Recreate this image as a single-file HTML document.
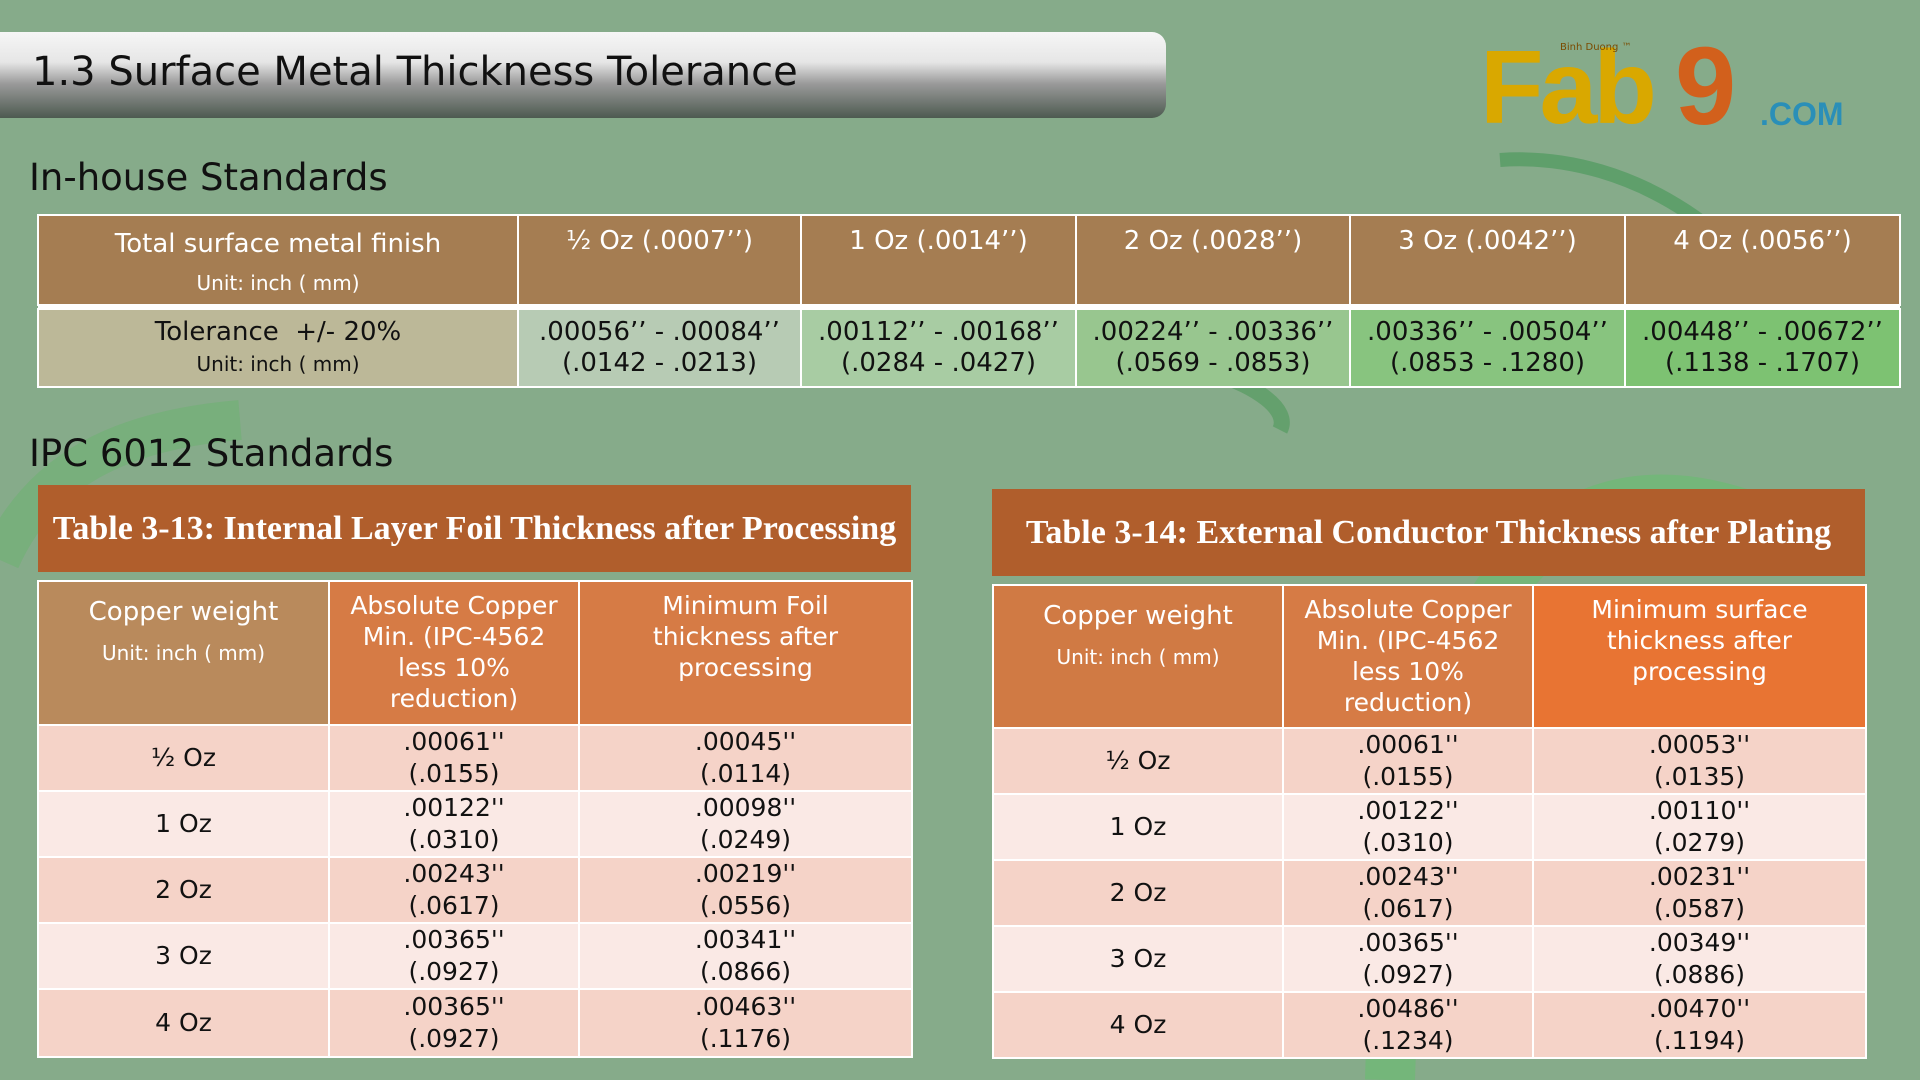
<!DOCTYPE html>
<html><head><meta charset="utf-8"><style>
*{margin:0;padding:0;box-sizing:border-box}
body{width:1920px;height:1080px;overflow:hidden;background:#86ab8a;font-family:"DejaVu Sans","Liberation Sans",sans-serif;position:relative;color:#111}
.abs{position:absolute}
.title{left:0;top:32px;width:1166px;height:86px;border-radius:0 14px 14px 0;background:linear-gradient(#f6f6f6 0%,#e6e6e6 35%,#9a9a9a 60%,#4d5a50 100%)}
.title span{position:absolute;left:32px;top:17px;font-size:40px;color:#111}
.h2{font-size:37px;color:#111}
table{border-collapse:collapse;position:absolute;table-layout:fixed}
td{border:2px solid #fff;text-align:center;vertical-align:middle}
.t1 td{font-size:26px}
.cap{background:#b05e2c;color:#fff;font-family:"Liberation Serif",serif;font-weight:bold;font-size:34px;display:flex;align-items:center;justify-content:center;white-space:nowrap}
.t2 td{font-size:25px;line-height:32px}
.t2 .hd td{color:#fff;vertical-align:top;padding-top:8px;line-height:31px;font-size:25px}
.r1{background:#f5d3c8}.r2{background:#fae9e5}
</style></head><body>
<svg class="abs" style="left:0;top:0" width="1920" height="1080">
<path d="M1390 1080 C1400 700 1500 420 1760 520" stroke="#6cba74" stroke-width="50" fill="none" opacity="0.7"/>
<path d="M1500 160 C1640 150 1760 250 1790 330" stroke="#4f9a5e" stroke-width="14" fill="none" opacity="0.7"/>
<path d="M0 560 C40 470 120 430 240 420" stroke="#6ab36e" stroke-width="40" fill="none" opacity="0.5"/>
<path d="M1000 370 C1150 330 1300 390 1280 430" stroke="#4e9a5a" stroke-width="16" fill="none" opacity="0.6"/>
</svg>
<div class="abs title"><span>1.3 Surface Metal Thickness Tolerance</span></div>
<div class="abs" style="left:1480px;top:38px;width:300px;height:110px">
<div class="abs" style="left:0;top:0;font-family:'Liberation Sans',sans-serif;font-weight:bold;font-size:104px;color:#d9a800;line-height:100px;letter-spacing:-4px">Fab</div>
<div class="abs" style="left:195px;top:-6px;font-family:'Liberation Sans',sans-serif;font-weight:bold;font-size:110px;color:#d2601c;line-height:110px">9</div>
<div class="abs" style="left:280px;top:58px;font-family:'Liberation Sans',sans-serif;font-weight:bold;font-size:32px;color:#2a8fb8">.COM</div>
<div class="abs" style="left:80px;top:4px;font-size:10px;color:#7a4b00">Binh Duong ™</div>
</div>
<div class="abs h2" style="left:29px;top:156px">In-house Standards</div>
<div class="abs h2" style="left:29px;top:432px">IPC 6012 Standards</div>

<table class="t1" style="left:37px;top:214px;width:1862px">
<colgroup><col style="width:480px"><col style="width:283px"><col style="width:275px"><col style="width:274px"><col style="width:275px"><col style="width:275px"></colgroup>
<tr style="height:90px;background:#a57d52;color:#fff"><td style="line-height:38px;padding-top:6px">Total surface metal finish<br><span style="font-size:20px">Unit: inch ( mm)</span></td>
<td style="vertical-align:top;padding-top:10px">½ Oz (.0007’’)</td><td style="vertical-align:top;padding-top:10px">1 Oz (.0014’’)</td><td style="vertical-align:top;padding-top:10px">2 Oz (.0028’’)</td><td style="vertical-align:top;padding-top:10px">3 Oz (.0042’’)</td><td style="vertical-align:top;padding-top:10px">4 Oz (.0056’’)</td></tr>
<tr style="height:4px"><td colspan="6" style="border:none;background:#fff;padding:0;height:4px"></td></tr>
<tr style="height:78px;line-height:31px"><td style="background:#bcb898">Tolerance &nbsp;+/- 20%<br><span style="font-size:20px">Unit: inch ( mm)</span></td>
<td style="background:#b7cbb4">.00056’’ - .00084’’<br>(.0142 - .0213)</td>
<td style="background:#a8cca3">.00112’’ - .00168’’<br>(.0284 - .0427)</td>
<td style="background:#98c68f">.00224’’ - .00336’’<br>(.0569 - .0853)</td>
<td style="background:#88c47f">.00336’’ - .00504’’<br>(.0853 - .1280)</td>
<td style="background:#7dc272">.00448’’ - .00672’’<br>(.1138 - .1707)</td></tr>
</table>

<div class="abs cap" style="left:38px;top:485px;width:873px;height:87px">Table 3-13: Internal Layer Foil Thickness after Processing</div>
<table class="t2" style="left:37px;top:580px;width:874px">
<colgroup><col style="width:291px"><col style="width:250px"><col style="width:333px"></colgroup>
<tr class="hd" style="height:144px"><td style="background:#b98a5c;padding-top:10px;line-height:40px;font-size:26px">Copper weight<br><span style="font-size:20px">Unit: inch ( mm)</span></td><td style="background:#d67b45">Absolute Copper<br>Min. (IPC-4562<br>less 10%<br>reduction)</td><td style="background:#d67b45">Minimum Foil<br>thickness after<br>processing</td></tr>
<tr class="r1" style="height:66px"><td>½ Oz</td><td>.00061''<br>(.0155)</td><td>.00045''<br>(.0114)</td></tr>
<tr class="r2" style="height:66px"><td>1 Oz</td><td>.00122''<br>(.0310)</td><td>.00098''<br>(.0249)</td></tr>
<tr class="r1" style="height:66px"><td>2 Oz</td><td>.00243''<br>(.0617)</td><td>.00219''<br>(.0556)</td></tr>
<tr class="r2" style="height:66px"><td>3 Oz</td><td>.00365''<br>(.0927)</td><td>.00341''<br>(.0866)</td></tr>
<tr class="r1" style="height:68px"><td>4 Oz</td><td>.00365''<br>(.0927)</td><td>.00463''<br>(.1176)</td></tr>
</table>

<div class="abs cap" style="left:992px;top:489px;width:873px;height:87px">Table 3-14: External Conductor Thickness after Plating</div>
<table class="t2" style="left:992px;top:584px;width:873px">
<colgroup><col style="width:290px"><col style="width:250px"><col style="width:333px"></colgroup>
<tr class="hd" style="height:143px"><td style="background:#d07a44;padding-top:10px;line-height:40px;font-size:26px">Copper weight<br><span style="font-size:20px">Unit: inch ( mm)</span></td><td style="background:#d67b45">Absolute Copper<br>Min. (IPC-4562<br>less 10%<br>reduction)</td><td style="background:#e87433">Minimum surface<br>thickness after<br>processing</td></tr>
<tr class="r1" style="height:66px"><td>½ Oz</td><td>.00061''<br>(.0155)</td><td>.00053''<br>(.0135)</td></tr>
<tr class="r2" style="height:66px"><td>1 Oz</td><td>.00122''<br>(.0310)</td><td>.00110''<br>(.0279)</td></tr>
<tr class="r1" style="height:66px"><td>2 Oz</td><td>.00243''<br>(.0617)</td><td>.00231''<br>(.0587)</td></tr>
<tr class="r2" style="height:66px"><td>3 Oz</td><td>.00365''<br>(.0927)</td><td>.00349''<br>(.0886)</td></tr>
<tr class="r1" style="height:66px"><td>4 Oz</td><td>.00486''<br>(.1234)</td><td>.00470''<br>(.1194)</td></tr>
</table>
</body></html>
